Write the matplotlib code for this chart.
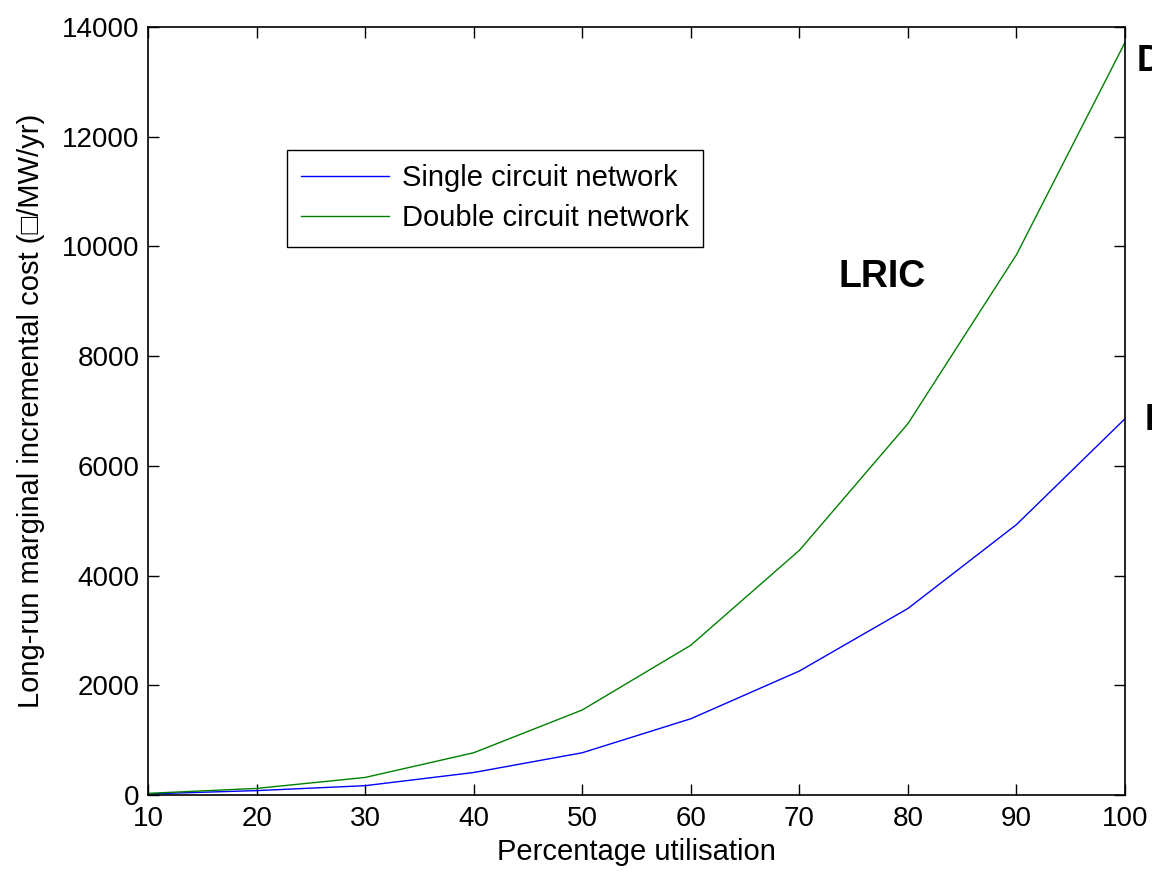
import matplotlib
matplotlib.use('Agg')
import matplotlib.pyplot as plt

plt.rcParams['font.family'] = ['Liberation Sans', 'DejaVu Sans']

# Data
utilisation = [10, 20, 30, 40, 50, 60, 70, 80, 90, 100]
single_circuit = [20, 80, 170, 410, 770, 1390, 2260, 3400, 4930, 6860]
double_circuit = [30, 120, 320, 770, 1550, 2730, 4460, 6770, 9850, 13720]
yticks = [0, 2000, 4000, 6000, 8000, 10000, 12000, 14000]
xticks = [10, 20, 30, 40, 50, 60, 70, 80, 90, 100]


def make_chart(out_path):
    fig = plt.figure(figsize=(11.52, 8.72), dpi=100)
    ax = fig.add_axes([0.1285, 0.0883, 0.8481, 0.8807])

    ax.plot(utilisation, single_circuit, color='#0000ff', lw=1.0, label='Single circuit network')
    ax.plot(utilisation, double_circuit, color='#008000', lw=1.0, label='Double circuit network')

    ax.set_xlim(10, 100)
    ax.set_ylim(0, 14000)
    ax.set_xticks(xticks)
    ax.set_yticks(yticks)
    ax.tick_params(direction='in', top=True, right=True, length=8, width=1,
                   labelsize=20)
    ax.tick_params(axis='x', pad=8)
    ax.tick_params(axis='y', pad=6)
    for s in ax.spines.values():
        s.set_linewidth(1.2)

    ax.set_xlabel('Percentage utilisation', fontsize=21, labelpad=4)
    ax.set_ylabel('Long-run marginal incremental cost (\u25a1/MW/yr)', fontsize=21, labelpad=12.5)

    leg = ax.legend(loc='upper left', bbox_to_anchor=(0.142, 0.840), fontsize=21,
                    fancybox=False, framealpha=1, edgecolor='black',
                    handlelength=3.0, handletextpad=0.45, borderpad=0.5,
                    labelspacing=0.4, borderaxespad=0)
    leg.get_frame().set_linewidth(1.0)

    ax.text(73.6, 9440, 'LRIC', fontsize=27, fontweight='bold', va='center')
    fig.text(0.987, 0.929, 'D', fontsize=26, fontweight='bold', va='center')
    fig.text(0.994, 0.518, 'D', fontsize=26, fontweight='bold', va='center')

    fig.savefig(out_path, facecolor='white')
    plt.close(fig)


if __name__ == '__main__':
    make_chart('out.png')
